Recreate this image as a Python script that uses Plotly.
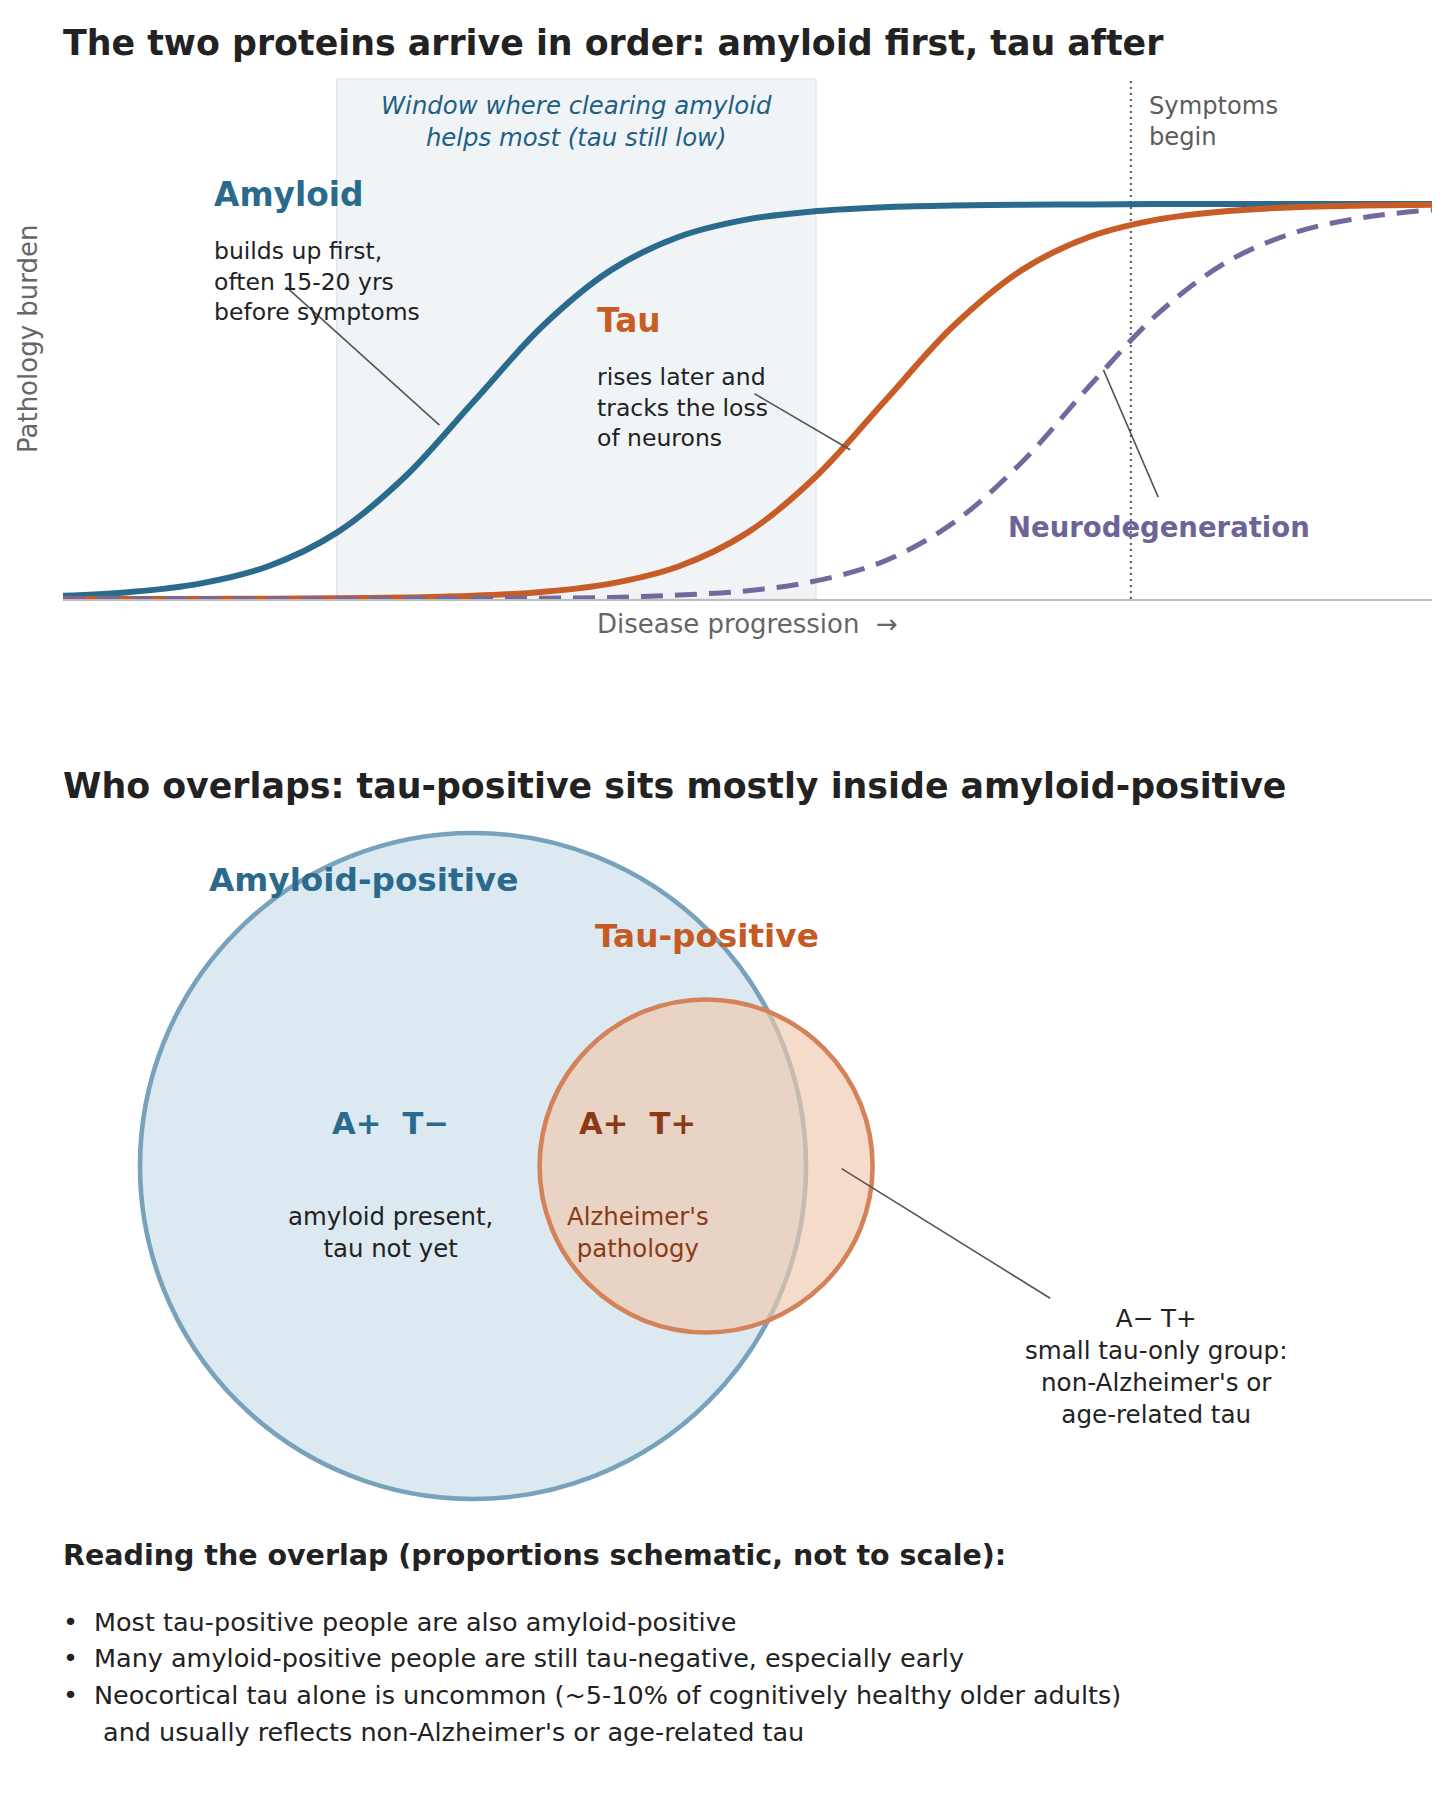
import plotly.graph_objects as go

# ---------------- data ----------------
progression = [0, 5, 10, 15, 20, 25, 30, 35, 40, 45, 50, 55, 60, 65, 70, 75, 80, 85, 90, 95, 100]
amyloid = [0.008, 0.018, 0.039, 0.083, 0.168, 0.310, 0.500, 0.690, 0.832, 0.917, 0.961,
           0.982, 0.992, 0.996, 0.998, 0.999, 1.0, 1.0, 1.0, 1.0, 1.0]
tau = [0.0, 0.0, 0.0003, 0.0007, 0.0017, 0.0037, 0.008, 0.018, 0.039, 0.083, 0.168,
       0.310, 0.500, 0.690, 0.832, 0.917, 0.961, 0.982, 0.992, 0.996, 0.998]
neuro = [0.0, 0.0, 0.0, 0.0, 0.0, 0.001, 0.001, 0.002, 0.004, 0.010, 0.021,
         0.046, 0.096, 0.192, 0.345, 0.540, 0.723, 0.853, 0.928, 0.966, 0.985]
series_names = ["Amyloid", "Tau", "Neurodegeneration"]

window_start, window_end = 20, 55
symptom_onset = 78

venn_sets = ["Amyloid-positive", "Tau-positive"]
venn_cx = [0.0, 0.7]
venn_cy = [0.0, 0.0]
venn_r = [1.0, 0.5]

bullet_lines = [
    "Most tau-positive people are also amyloid-positive",
    "Many amyloid-positive people are still tau-negative, especially early",
    "Neocortical tau alone is uncommon (~5-10% of cognitively healthy older adults)",
    "and usually reflects non-Alzheimer's or age-related tau",
]

# ---------------- style ----------------
W, H = 1456, 1818
FONT = "DejaVu Sans"
BLUE = "#2a6a8c"
ORANGE = "#c85c27"
PURPLE = "#75689e"
DARK = "#222222"
GRAY = "#666666"

fig = go.Figure()

fig.add_trace(go.Scatter(x=progression, y=amyloid, mode="lines", name=series_names[0],
                         line=dict(color=BLUE, width=6, shape="spline"), hoverinfo="skip"))
fig.add_trace(go.Scatter(x=progression, y=tau, mode="lines", name=series_names[1],
                         line=dict(color=ORANGE, width=6, shape="spline"), hoverinfo="skip"))
fig.add_trace(go.Scatter(x=progression, y=neuro, mode="lines", name=series_names[2],
                         line=dict(color=PURPLE, width=5, shape="spline", dash="22px,12px"),
                         hoverinfo="skip"))

# invisible anchor trace for the Venn axes
fig.add_trace(go.Scatter(x=venn_cx, y=venn_cy, xaxis="x2", yaxis="y2", mode="markers",
                         marker=dict(opacity=0), hoverinfo="skip", showlegend=False))

# ---------------- layout / axes ----------------
top_px, bot_px = 79, 599
left_px, right_px = 63, 1432
y_top_val = (bot_px - top_px) / 395.0

PPU = 333.0
vcx_px, vcy_px = 473.0, 1166.0
vdom = [0.15, 0.62]
v_top_px = H * (1 - vdom[1])
v_bot_px = H * (1 - vdom[0])

fig.update_layout(
    width=W, height=H, autosize=False,
    margin=dict(l=0, r=0, t=0, b=0),
    paper_bgcolor="white", plot_bgcolor="white",
    showlegend=False,
    font=dict(family=FONT, color=DARK),
    xaxis=dict(domain=[left_px / W, right_px / W], range=[0, 100], showgrid=False,
               zeroline=False, showticklabels=False, ticks="", showline=True,
               linecolor="#bdbdbd", linewidth=2, fixedrange=True),
    yaxis=dict(domain=[(H - bot_px) / H, (H - top_px) / H], range=[0, y_top_val],
               showgrid=False, zeroline=False, showticklabels=False, ticks="",
               showline=False, fixedrange=True),
    xaxis2=dict(domain=[0, 1], range=[-vcx_px / PPU, (W - vcx_px) / PPU], visible=False,
                anchor="y2", fixedrange=True),
    yaxis2=dict(domain=vdom, range=[(vcy_px - v_bot_px) / PPU, (vcy_px - v_top_px) / PPU],
                visible=False, anchor="x2", fixedrange=True),
)

shapes = []
# therapeutic window
shapes.append(dict(type="rect", xref="x", yref="y domain", x0=window_start, x1=window_end,
                   y0=0, y1=1, fillcolor="#f0f4f7", line=dict(color="#e3e9ef", width=1.5),
                   layer="below"))
# symptom onset
shapes.append(dict(type="line", xref="x", yref="y domain", x0=symptom_onset, x1=symptom_onset,
                   y0=0, y1=1, line=dict(color="#555555", width=2, dash="2px,4px"),
                   layer="below"))
# connectors (top chart)
conn = dict(color="#555555", width=1.6)
shapes.append(dict(type="line", xref="x", yref="y", x0=16.3, y0=0.79, x1=27.5, y1=0.44, line=conn))
shapes.append(dict(type="line", xref="x", yref="y", x0=50.5, y0=0.52, x1=57.5, y1=0.378, line=conn))
shapes.append(dict(type="line", xref="x", yref="y", x0=80.0, y0=0.258, x1=76.0, y1=0.58, line=conn))

# Venn circles
venn_fill = ["#dce9f1", "rgba(240,200,172,0.65)"]
venn_line = ["#78a2bb", "#d4825a"]
for i in range(len(venn_sets)):
    shapes.append(dict(type="circle", xref="x2", yref="y2",
                       x0=venn_cx[i] - venn_r[i], x1=venn_cx[i] + venn_r[i],
                       y0=venn_cy[i] - venn_r[i], y1=venn_cy[i] + venn_r[i],
                       fillcolor=venn_fill[i], line=dict(color=venn_line[i], width=4.6)))
shapes.append(dict(type="line", xref="x2", yref="y2", x0=1.107, y0=-0.008, x1=1.733, y1=-0.397,
                   line=conn))
fig.update_layout(shapes=shapes)

ann = []


def A(text, x, y, xref="paper", yref="paper", size=24, color=DARK, xanchor="left",
      yanchor="middle", weight="normal", style="normal", align="left", angle=0):
    ann.append(dict(text=text, x=x, y=y, xref=xref, yref=yref, showarrow=False,
                    xanchor=xanchor, yanchor=yanchor, align=align, textangle=angle,
                    borderpad=0, borderwidth=0,
                    font=dict(family=FONT, size=size, color=color, weight=weight, style=style)))


def py(px):
    return (H - px) / H


# titles
A("The two proteins arrive in order: amyloid first, tau after", left_px / W, py(43),
  size=34.8, weight="bold", color="#222222")
A("Who overlaps: tau-positive sits mostly inside amyloid-positive", left_px / W, py(786),
  size=34.8, weight="bold", color="#222222")

# axis titles
A("Disease progression\u00a0\u00a0→", 50, py(624), xref="x", size=26, color=GRAY,
  xanchor="center")
A("Pathology burden", 28 / W, 0.5, yref="y domain", size=26, color=GRAY,
  xanchor="center", angle=-90)

# window + symptom labels
A("Window where clearing amyloid<br>helps most (tau still low)", (window_start + window_end) / 2,
  1.21, xref="x", yref="y", size=24.4, color="#1f5f84", xanchor="center", align="center",
  style="italic")
A("Symptoms<br>begin", 79.3, 1.21, xref="x", yref="y", size=24.2, color="#5c5c5c")

# series labels
A("Amyloid", 11.0, 1.023, xref="x", yref="y", size=32.8, color=BLUE, weight="bold")
A("builds up first,<br>often 15-20 yrs<br>before symptoms", 11.0, 0.803, xref="x", yref="y",
  size=23.5)
A("Tau", 39.0, 0.704, xref="x", yref="y", size=32.8, color=ORANGE, weight="bold")
A("rises later and<br>tracks the loss<br>of neurons", 39.0, 0.484, xref="x", yref="y", size=23.5)
A("Neurodegeneration", 69.0, 0.182, xref="x", yref="y", size=27.5, color="#6e6399",
  weight="bold")

# Venn labels
A(venn_sets[0], -0.793, 0.859, xref="x2", yref="y2", size=32.7, color=BLUE, weight="bold")
A(venn_sets[1], 0.366, 0.692, xref="x2", yref="y2", size=32.7, color="#c55a23", weight="bold")
A("A+\u00a0\u00a0T\u2212", -0.247, 0.129, xref="x2", yref="y2", size=30.6, color=BLUE,
  weight="bold", xanchor="center")
A("A+\u00a0\u00a0T+", 0.494, 0.129, xref="x2", yref="y2", size=30.6, color="#8b3a17",
  weight="bold", xanchor="center")
A("amyloid present,<br>tau not yet", -0.247, -0.201, xref="x2", yref="y2", size=24.4,
  xanchor="center", align="center")
A("Alzheimer's<br>pathology", 0.494, -0.201, xref="x2", yref="y2", size=24.4, color="#8b3a17",
  xanchor="center", align="center")
A("A\u2212 T+<br>small tau-only group:<br>non-Alzheimer's or<br>age-related tau", 2.054, -0.602,
  xref="x2", yref="y2", size=24.6, xanchor="center", align="center")

# reading notes
A("Reading the overlap (proportions schematic, not to scale):", left_px / W, py(1555),
  size=28.5, weight="bold", color="#222222")
bullet_y = [1621.7, 1657.6, 1694.7, 1731.8]
for i, line in enumerate(bullet_lines):
    if i < 3:
        A("\u2022", left_px / W, py(bullet_y[i]), size=25.5)
        A(line, 94 / W, py(bullet_y[i]), size=25.5)
    else:
        A(line, 103 / W, py(bullet_y[i]), size=25.5)

fig.update_layout(annotations=ann)
fig.write_html("out.html")
